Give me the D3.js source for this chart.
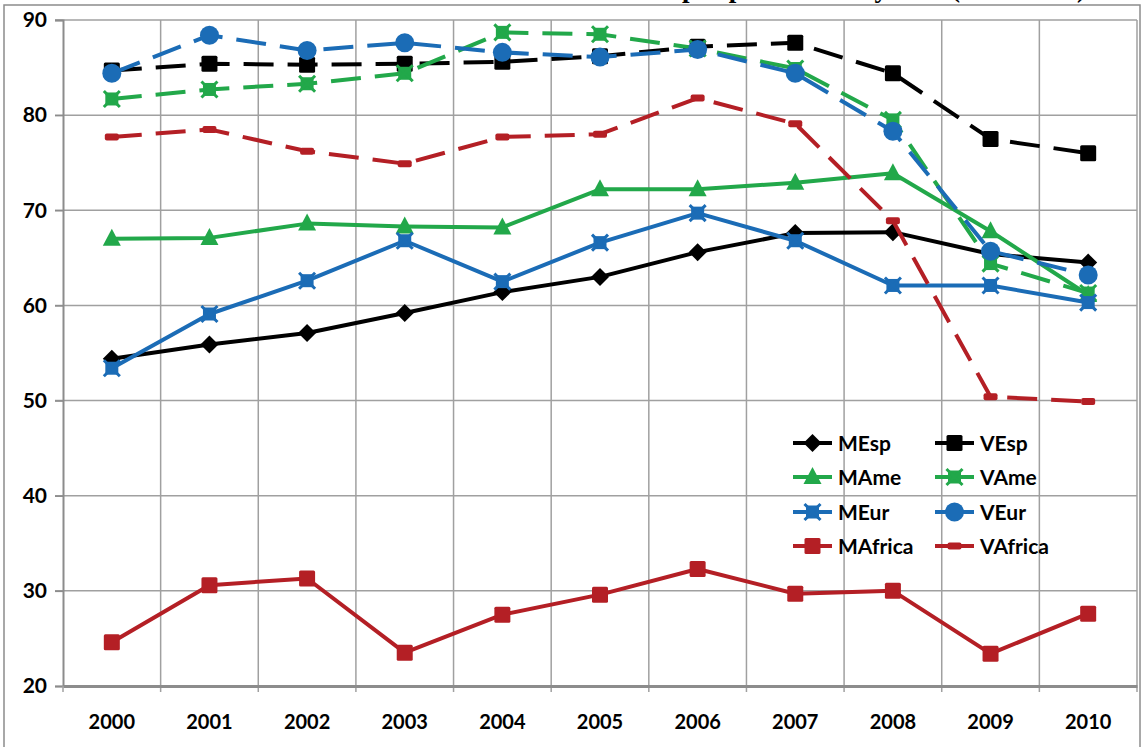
<!DOCTYPE html>
<html>
<head>
<meta charset="utf-8">
<script src="https://cdn.jsdelivr.net/npm/d3@7"></script>
<style>
  body { margin: 0; background: #fff; }
  svg { display: block; }
  text { font-family: Lato, "Open Sans", sans-serif; font-weight: bold; fill: #000; }
</style>
</head>
<body>
<svg id="chart" width="1143" height="747"></svg>
<script>
// categories
const years = ["2000", "2001", "2002", "2003", "2004", "2005", "2006", "2007", "2008", "2009", "2010"];
const yTicks = [20, 30, 40, 50, 60, 70, 80, 90];

// series values
const mEsp = [54.4, 55.9, 57.1, 59.2, 61.4, 63.0, 65.6, 67.6, 67.7, 65.4, 64.5];
const vEsp = [84.7, 85.4, 85.3, 85.4, 85.6, 86.2, 87.2, 87.6, 84.4, 77.5, 76.0];
const mAme = [67.0, 67.1, 68.6, 68.3, 68.2, 72.2, 72.2, 72.9, 73.9, 67.8, 61.1];
const vAme = [81.7, 82.7, 83.3, 84.4, 88.7, 88.5, 87.0, 84.9, 79.5, 64.4, 61.3];
const mEur = [53.4, 59.1, 62.6, 66.8, 62.5, 66.6, 69.7, 66.8, 62.1, 62.1, 60.3];
const vEur = [84.4, 88.4, 86.8, 87.6, 86.6, 86.1, 86.9, 84.4, 78.3, 65.7, 63.2];
const mAfrica = [24.6, 30.6, 31.3, 23.5, 27.5, 29.6, 32.3, 29.7, 30.0, 23.4, 27.6];
const vAfrica = [77.7, 78.5, 76.2, 74.9, 77.7, 78.0, 81.8, 79.1, 68.9, 50.4, 49.9];

const BLACK = "#000000", GREEN = "#22a84a", BLUE = "#1b6cb6", RED = "#b41f25";

const series = [
  { name: "MEsp", values: mEsp, color: BLACK, dashed: false, marker: "diamond" },
  { name: "VEsp", values: vEsp, color: BLACK, dashed: true, marker: "square" },
  { name: "MAme", values: mAme, color: GREEN, dashed: false, marker: "triangle" },
  { name: "VAme", values: vAme, color: GREEN, dashed: true, marker: "xsquare" },
  { name: "MEur", values: mEur, color: BLUE, dashed: false, marker: "xsquare" },
  { name: "VEur", values: vEur, color: BLUE, dashed: true, marker: "circle" },
  { name: "MAfrica", values: mAfrica, color: RED, dashed: false, marker: "square" },
  { name: "VAfrica", values: vAfrica, color: RED, dashed: true, marker: "dash" },
];

const plot = { left: 63, right: 1137, top: 20, bottom: 686 };
const svg = d3.select("#chart");

const x = d3.scaleBand().domain(years).range([plot.left, plot.right]);
const cx = (d) => x(d) + x.bandwidth() / 2;
const y = d3.scaleLinear().domain([20, 90]).range([plot.bottom, plot.top]);

// outer chart border
svg.append("rect")
  .attr("x", 4).attr("y", 5)
  .attr("width", 1136).attr("height", 770)
  .attr("fill", "none").attr("stroke", "#8c8c8c").attr("stroke-width", 1.5);

// title, mostly cut off at the top of the picture
svg.append("text")
  .attr("x", 1086).attr("y", -3.5)
  .attr("text-anchor", "end")
  .style("font-family", "'Liberation Serif', serif")
  .style("font-size", "27px")
  .text("Tasa de actividad por procedencia y sexo (2000-2010)");

// horizontal gridlines
svg.append("g")
  .selectAll("line")
  .data(yTicks.filter((t) => t > 20))
  .join("line")
  .attr("x1", plot.left - 8).attr("x2", plot.right)
  .attr("y1", (d) => y(d)).attr("y2", (d) => y(d))
  .attr("stroke", "#a0a0a0").attr("stroke-width", 1.5);

// vertical gridlines at category boundaries
svg.append("g")
  .selectAll("line")
  .data(years)
  .join("line")
  .attr("x1", (d) => x(d) + x.bandwidth()).attr("x2", (d) => x(d) + x.bandwidth())
  .attr("y1", plot.top).attr("y2", plot.bottom + 6)
  .attr("stroke", "#a0a0a0").attr("stroke-width", 1.5);

// left axis
const yAxis = svg.append("g")
  .attr("transform", `translate(${plot.left},0)`)
  .call(d3.axisLeft(y).tickValues(yTicks).tickSize(8).tickPadding(8).tickFormat(d3.format("d")));
yAxis.select(".domain").attr("stroke", "#8c8c8c").attr("stroke-width", 2);
yAxis.selectAll(".tick line").attr("stroke", "#8c8c8c").attr("stroke-width", 1.5);
yAxis.selectAll("text").style("font-size", "21px").attr("fill", "#000");

// bottom axis
const xAxis = svg.append("g")
  .attr("transform", `translate(0,${plot.bottom})`)
  .call(d3.axisBottom(x).tickSize(0).tickPadding(29));
xAxis.select(".domain").attr("stroke", "#8c8c8c").attr("stroke-width", 3);
xAxis.selectAll("text").style("font-size", "20px").attr("fill", "#000");

svg.append("line")
  .attr("x1", plot.left).attr("x2", plot.left)
  .attr("y1", plot.bottom).attr("y2", plot.bottom + 6)
  .attr("stroke", "#a0a0a0").attr("stroke-width", 1.5);

// marker drawing
const drawMarker = (g, type, color) => {
  if (type === "diamond") {
    g.append("path").attr("d", "M0,-9L9,0L0,9L-9,0Z").attr("fill", color);
  } else if (type === "square") {
    g.append("rect").attr("x", -8).attr("y", -8).attr("width", 16).attr("height", 16).attr("rx", 1.5).attr("fill", color);
  } else if (type === "triangle") {
    g.append("path").attr("d", "M0,-10L9,7L-9,7Z").attr("fill", color);
  } else if (type === "xsquare") {
    g.append("rect").attr("x", -6.5).attr("y", -6.5).attr("width", 13).attr("height", 13).attr("fill", color);
    g.append("path").attr("d", "M-8,-8L8,8M8,-8L-8,8").attr("stroke", color).attr("stroke-width", 3);
  } else if (type === "circle") {
    g.append("circle").attr("r", 9.5).attr("fill", color);
  } else if (type === "dash") {
    g.append("rect").attr("x", -7).attr("y", -3.5).attr("width", 14).attr("height", 7).attr("rx", 2).attr("fill", color);
  }
};

const line = d3.line().x((d, i) => cx(years[i])).y((d) => y(d));

// series
series.forEach((s) => {
  const g = svg.append("g").attr("class", "series");
  g.append("path")
    .datum(s.values)
    .attr("d", line)
    .attr("fill", "none")
    .attr("stroke", s.color)
    .attr("stroke-width", 4)
    .attr("stroke-linejoin", "round")
    .attr("stroke-dasharray", s.dashed ? "30 14" : null);
  g.selectAll("g.pt")
    .data(s.values)
    .join("g")
    .attr("class", "pt")
    .attr("transform", (d, i) => `translate(${cx(years[i])},${y(d)})`)
    .each(function () { drawMarker(d3.select(this), s.marker, s.color); });
});

// legend, two columns
const legend = svg.append("g");
const legCols = [793, 935];
const legRows = [443, 477, 512, 546];
series.forEach((s, i) => {
  const lx = legCols[i % 2], ly = legRows[Math.floor(i / 2)];
  const g = legend.append("g").attr("transform", `translate(${lx},${ly})`);
  g.append("line")
    .attr("x1", 0).attr("x2", 39).attr("y1", 0).attr("y2", 0)
    .attr("stroke", s.color).attr("stroke-width", 4);
  const m = g.append("g").attr("transform", "translate(19.5,0)");
  drawMarker(m, s.marker, s.color);
  g.append("text")
    .attr("x", 45).attr("y", 0).attr("dy", "0.36em")
    .style("font-size", "21px")
    .text(s.name);
});
</script>
</body>
</html>
